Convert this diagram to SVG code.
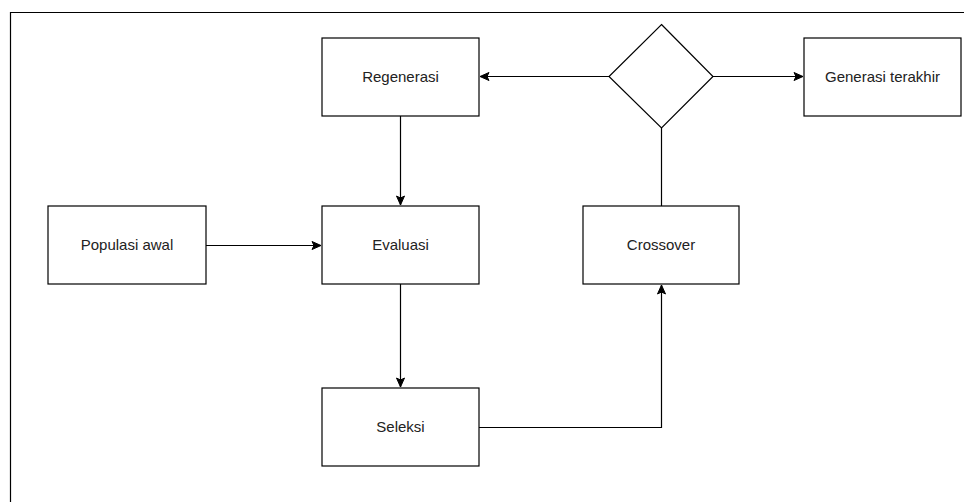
<svg xmlns="http://www.w3.org/2000/svg" width="964" height="502" viewBox="0 0 964 502">
<defs>
<marker id="arr" markerUnits="userSpaceOnUse" markerWidth="12" markerHeight="12" viewBox="0 0 12 12" refX="10" refY="6" orient="auto">
<path d="M1,2 L10,6 L1,10 L3,6 Z" fill="#000" stroke="#000" stroke-width="1"/>
</marker>
</defs>
<style>
.box{fill:#fff;stroke:#000;stroke-width:1.2}
.t{font-family:"Liberation Sans",Arial,sans-serif;font-size:15px;fill:#222;text-anchor:middle;dominant-baseline:central}
.c{fill:none;stroke:#000;stroke-width:1.2}
</style>
<rect width="964" height="502" fill="#fff"/>
<path d="M10.5,502 L10.5,12.5 L964,12.5" fill="none" stroke="#000" stroke-width="1.2"/>
<g id="connectors">
<path class="c" d="M400.5,116 L400.5,205" marker-end="url(#arr)"/>
<path class="c" d="M206,245.5 L321,245.5" marker-end="url(#arr)"/>
<path class="c" d="M400.5,284 L400.5,387" marker-end="url(#arr)"/>
<path class="c" d="M479,427.5 L661.5,427.5 L661.5,285" marker-end="url(#arr)"/>
<path class="c" d="M661.5,206 L661.5,128"/>
<path class="c" d="M609,76.5 L480,76.5" marker-end="url(#arr)"/>
<path class="c" d="M713,76.5 L803,76.5" marker-end="url(#arr)"/>
</g>
<g id="regenerasi"><rect class="box" x="322" y="38" width="157" height="78"/><text class="t" x="400.5" y="76">Regenerasi</text></g>
<g id="decision"><path class="box" d="M661.5,24.5 L713,76.5 L661.5,128 L609,76.5 Z"/></g>
<g id="generasi-terakhir"><rect class="box" x="804" y="38" width="157" height="78"/><text class="t" x="882.5" y="76">Generasi terakhir</text></g>
<g id="populasi-awal"><rect class="box" x="48" y="206" width="158" height="78"/><text class="t" x="127" y="244">Populasi awal</text></g>
<g id="evaluasi"><rect class="box" x="322" y="206" width="157" height="78"/><text class="t" x="400.5" y="244">Evaluasi</text></g>
<g id="crossover"><rect class="box" x="583" y="206" width="156" height="78"/><text class="t" x="661" y="244">Crossover</text></g>
<g id="seleksi"><rect class="box" x="322" y="388" width="157" height="78"/><text class="t" x="400.5" y="426">Seleksi</text></g>
</svg>
